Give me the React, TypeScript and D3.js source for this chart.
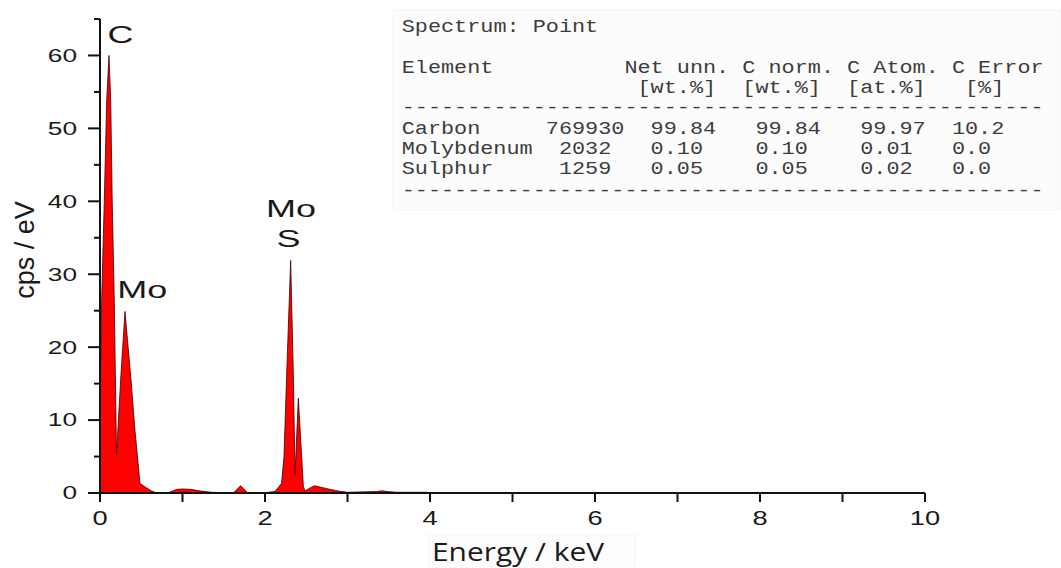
import React from "react";
import * as d3 from "d3";

// ---- spectrum data (keV, cps/eV) ----
const energy = [0, 0.008, 0.02, 0.052, 0.081, 0.109, 0.13, 0.148, 0.173, 0.2, 0.25, 0.303, 0.376, 0.424, 0.485, 0.566, 0.62, 0.69, 0.83, 0.93, 1.0, 1.1, 1.2, 1.35, 1.45, 1.62, 1.66, 1.705, 1.74, 1.79, 2.0, 2.12, 2.2, 2.23, 2.263, 2.311, 2.343, 2.364, 2.404, 2.465, 2.485, 2.53, 2.6, 2.75, 2.9, 3.0, 3.35, 3.42, 3.48, 3.6, 3.96, 3.98];
const counts = [0, 18, 26.4, 40, 53.8, 60, 53.8, 40, 26.4, 5.2, 15.5, 24.9, 15.5, 8.6, 1.3, 0.7, 0.3, 0, 0.05, 0.5, 0.55, 0.5, 0.3, 0.1, 0.05, 0.02, 0.5, 1.0, 0.6, 0.02, 0.05, 0.2, 1.3, 5, 16.4, 31.9, 16.4, 2.5, 13, 0.9, 0.3, 0.6, 1.0, 0.6, 0.25, 0.1, 0.2, 0.3, 0.2, 0.1, 0.1, 0];

const xTicks = [0, 1, 2, 3, 4, 5, 6, 7, 8, 9, 10];
const xTickLabels = ["0", "", "2", "", "4", "", "6", "", "8", "", "10"];
const yMajor = [0, 10, 20, 30, 40, 50, 60];
const yMinor = [5, 15, 25, 35, 45, 55, 65];

// peak labels: [text, keV, value]
const peakLabelText = ["C", "Mo", "Mo", "S"];
const peakLabelE = [0.09, 0.21, 2.315, 2.285];
const peakLabelV = [61.7, 26.7, 37.8, 33.8];

// table
const tableTitle = "Spectrum: Point";
const tableHeader1 = ["Element", "Net unn. C norm. C Atom. C Error"];
const tableHeader2 = ["[wt.%]", "[wt.%]", "[at.%]", "[%]"];
const elements = ["Carbon", "Molybdenum", "Sulphur"];
const netCounts = ["769930", "2032", "1259"];
const unnWt = ["99.84", "0.10", "0.05"];
const normWt = ["99.84", "0.10", "0.05"];
const atomAt = ["99.97", "0.01", "0.02"];
const errPct = ["10.2", "0.0", "0.0"];

const W = 1061, H = 568;
const M = { left: 100, right: 925, top: 19, bottom: 493 };

export default function App() {
  const x = d3.scaleLinear().domain([0, 10]).range([M.left, M.right]);
  const y = d3.scaleLinear().domain([0, 65]).range([M.bottom, M.top]);
  const pts = energy.map((e, i) => [e, counts[i]] as [number, number]);
  const area = d3.area<[number, number]>().x(d => x(d[0])).y0(y(0)).y1(d => y(d[1]));
  const line = d3.line<[number, number]>().x(d => x(d[0])).y(d => y(d[1]));

  // table layout
  const tx0 = 401.7, cw = 13.1;
  const cell = (s: string, col: number, base: number, key: string) => (
    <text key={key} x={tx0 + col * cw} y={base} textLength={s.length * cw} lengthAdjust="spacingAndGlyphs">{s}</text>
  );
  const rowBase = [134, 154, 174];
  const netCol = [11, 12, 12];
  const dashes = "-".repeat(49);

  return (
    <svg width={W} height={H} style={{ position: "absolute", left: 0, top: 0, background: "#fff" }}>
      {/* table */}
      <rect x={393} y={10} width={668} height={200} fill="#fcfcfc" stroke="#f4f4f4" />
      <g fontFamily="'Liberation Mono', 'Courier New', monospace" fontSize={17.5} fill="#3c3c3c">
        {cell(tableTitle, 0, 32, "title")}
        {cell(tableHeader1[0], 0, 73, "h1a")}
        {cell(tableHeader1[1], 17, 73, "h1b")}
        {cell(tableHeader2[0], 18, 93, "h2a")}
        {cell(tableHeader2[1], 26, 93, "h2b")}
        {cell(tableHeader2[2], 34, 93, "h2c")}
        {cell(tableHeader2[3], 43, 93, "h2d")}
        {cell(dashes, 0, 113, "d1")}
        {elements.map((el, i) => (
          <g key={el}>
            {cell(el, 0, rowBase[i], el + "n")}
            {cell(netCounts[i], netCol[i], rowBase[i], el + "c")}
            {cell(unnWt[i], 19, rowBase[i], el + "u")}
            {cell(normWt[i], 27, rowBase[i], el + "w")}
            {cell(atomAt[i], 35, rowBase[i], el + "a")}
            {cell(errPct[i], 42, rowBase[i], el + "e")}
          </g>
        ))}
        {cell(dashes, 0, 196, "d2")}
      </g>

      {/* spectrum */}
      <path d={area(pts) || ""} fill="#ff0000" />
      <path d={line(pts) || ""} fill="none" stroke="#3a0000" strokeWidth={0.8} />

      {/* axes */}
      <g stroke="#111" strokeWidth={2}>
        <line x1={x(0)} x2={x(10)} y1={y(0)} y2={y(0)} />
        <line x1={x(0)} x2={x(0)} y1={y(0)} y2={y(65)} />
        {xTicks.map(t => <line key={"xt" + t} x1={x(t)} x2={x(t)} y1={y(0)} y2={y(0) + 9} />)}
        {yMajor.map(t => <line key={"ym" + t} x1={x(0) - 12} x2={x(0)} y1={y(t)} y2={y(t)} />)}
        {yMinor.map(t => <line key={"yn" + t} x1={x(0) - 6} x2={x(0)} y1={y(t)} y2={y(t)} />)}
      </g>
      <g fontFamily="'Liberation Sans', Arial, sans-serif" fill="#1a1a1a">
        {yMajor.map(t => (
          <text key={"yl" + t} transform={`translate(${x(0) - 23},${y(t) + 6.4}) scale(1.5,1)`} fontSize={17.5} textAnchor="end">{String(t)}</text>
        ))}
        {xTicks.map((t, i) => xTickLabels[i] ? (
          <text key={"xl" + t} transform={`translate(${x(t)},${525}) scale(1.4,1)`} fontSize={19.5} textAnchor="middle">{xTickLabels[i]}</text>
        ) : null)}
        {peakLabelText.map((s, i) => (
          <text key={"pl" + i} transform={`translate(${x(peakLabelE[i])},${y(peakLabelV[i])}) scale(1.5,1)`} fontSize={24} textAnchor={i < 2 ? "start" : "middle"}>{s}</text>
        ))}
        <text transform={`translate(34,250) rotate(-90)`} fontSize={27} textAnchor="middle">cps / eV</text>
      </g>
      <rect x={428} y={535} width={207} height={33} fill="#fdfdfd" stroke="#f6f6f6" />
      <text x={432} y={561} fontFamily="'Open Sans', 'Noto Sans', sans-serif" fontSize={25} fill="#1a1a1a" textLength={172} lengthAdjust="spacingAndGlyphs">Energy / keV</text>
    </svg>
  );
}
